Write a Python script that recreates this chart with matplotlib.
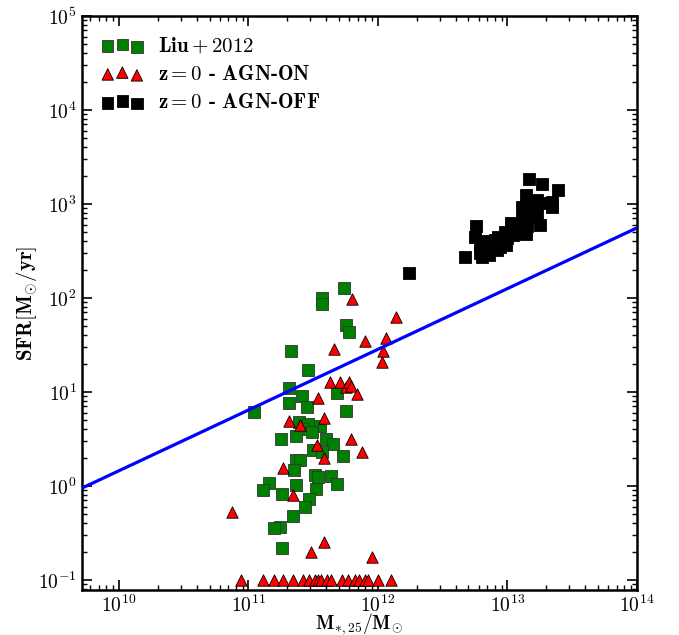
import numpy as np
import matplotlib
matplotlib.use("Agg")
import matplotlib.pyplot as plt

plt.rcParams['mathtext.fontset'] = 'cm'
plt.rcParams['font.family'] = ['cmr10', 'DejaVu Serif']
plt.rcParams['axes.formatter.use_mathtext'] = True

# log10 of stellar mass and SFR
liu_logm = [11.74, 11.57, 11.57, 11.75, 11.78, 11.33, 11.46, 11.31, 11.41, 11.31, 11.45,
            11.04, 11.68, 11.75, 11.39, 11.46, 11.55, 11.42, 11.49, 11.37, 11.25, 11.60,
            11.65, 11.50, 11.57, 11.73, 11.37, 11.40, 11.35, 11.51, 11.54, 11.64, 11.68,
            11.16, 11.11, 11.26, 11.37, 11.52, 11.47, 11.44, 11.34, 11.24, 11.20, 11.26]
liu_logsfr = [2.11, 2.00, 1.93, 1.71, 1.64, 1.44, 1.23, 1.04, 0.96, 0.88, 0.84,
              0.79, 0.99, 0.80, 0.68, 0.66, 0.64, 0.61, 0.57, 0.53, 0.50, 0.50,
              0.45, 0.38, 0.36, 0.32, 0.27, 0.28, 0.17, 0.12, 0.09, 0.10, 0.02,
              0.03, -0.04, -0.09, 0.01, -0.03, -0.14, -0.22, -0.32, -0.44, -0.45, -0.66]

on_logm = [11.80, 12.14, 11.90, 12.06, 11.66, 12.04, 12.03, 11.63, 11.71, 11.75, 11.78,
           11.79, 11.84, 11.54, 11.58, 11.40, 11.31, 11.79, 11.53, 11.88, 11.58, 11.27,
           11.34, 10.87, 11.58, 11.48, 11.95,
           10.94, 11.11, 11.20, 11.27, 11.34, 11.42, 11.47, 11.51, 11.54, 11.56, 11.61,
           11.64, 11.72, 11.77, 11.82, 11.85, 11.90, 11.92, 12.00, 12.10]
on_logsfr = [1.99, 1.80, 1.54, 1.57, 1.46, 1.43, 1.32, 1.11, 1.10, 1.05, 1.10,
             1.06, 0.98, 0.94, 0.72, 0.65, 0.69, 0.50, 0.44, 0.36, 0.30, 0.19,
             -0.10, -0.28, -0.60, -0.70, -0.76,
             -1, -1, -1, -1, -1, -1, -1, -1, -1, -1, -1,
             -1, -1, -1, -1, -1, -1, -1, -1, -1]

off_logm = [13.17, 13.27, 13.39, 13.14, 13.23, 13.34, 13.34, 13.11, 13.17, 13.21, 13.25,
            13.14, 12.67, 12.76, 12.75, 12.79, 12.79, 12.24, 12.84, 12.88, 12.92, 12.93,
            12.97, 12.98, 13.00, 13.03, 13.06, 13.07, 13.10, 13.11, 13.14, 13.16, 13.17,
            13.20, 13.21, 12.86, 12.94, 12.90, 12.99, 13.04, 13.08, 13.15, 13.23, 12.81,
            12.80, 13.25]
off_logsfr = [3.27, 3.21, 3.15, 3.10, 3.04, 3.02, 2.97, 2.97, 2.96, 2.97, 2.78,
              2.68, 2.43, 2.76, 2.65, 2.56, 2.48, 2.27, 2.53, 2.59, 2.51, 2.65,
              2.60, 2.70, 2.64, 2.80, 2.70, 2.78, 2.74, 2.85, 2.81, 2.88, 2.91,
              2.86, 2.94, 2.46, 2.54, 2.62, 2.56, 2.67, 2.69, 2.76, 2.88, 2.60,
              2.44, 3.01]

# main-sequence relation: log SFR = slope*(log M - 14) + norm
ms_slope = 0.646
ms_norm = 2.745

fig = plt.figure(figsize=(6.79, 6.35), dpi=100)
ax = fig.add_axes([0.1203, 0.0709, 0.8178, 0.904])

ms = 68
ax.scatter(10**np.array(liu_logm), 10**np.array(liu_logsfr), marker='s', s=ms,
           c='green', edgecolors='#333333', linewidths=0.6, label=r'$\mathbf{Liu + 2012}$', zorder=2)
ax.scatter(10**np.array(on_logm), 10**np.array(on_logsfr), marker='^', s=ms,
           c='red', edgecolors='black', linewidths=0.6, label=r'$\mathbf{z = 0}$ - AGN-ON', zorder=2)
ax.scatter(10**np.array(off_logm), 10**np.array(off_logsfr), marker='s', s=ms,
           c='black', edgecolors='black', linewidths=0.6, label=r'$\mathbf{z = 0}$ - AGN-OFF', zorder=2)

xl = np.array([9.7, 14.0])
ax.plot(10**xl, 10**(ms_slope * (xl - 14) + ms_norm), color='blue', lw=2.3, zorder=3)

ax.set_xscale('log')
ax.set_yscale('log')
ax.set_xlim(5.15e9, 1e14)
ax.set_ylim(0.078, 1e5)

ax.set_xlabel(r'$\mathbf{M_{*,25}/M_{\odot}}$', fontsize=14)
ax.set_ylabel(r'$\mathbf{SFR[M_{\odot}/yr]}$', fontsize=15)
ax.xaxis.set_label_coords(0.5, -0.037)
ax.yaxis.set_label_coords(-0.099, 0.5)
ax.xaxis.label.set_va('top')
ax.yaxis.label.set_va('center')

ax.tick_params(which='both', direction='in', top=True, right=True, labelsize=14)
ax.tick_params(which='major', length=7, width=1.2)
ax.tick_params(which='minor', length=3.5, width=1.0)
for sp in ax.spines.values():
    sp.set_linewidth(1.8)

leg = ax.legend(loc='upper left', frameon=False, scatterpoints=3,
                prop={'family': 'cmb10', 'size': 15}, handletextpad=0.7,
                labelspacing=0.45, borderaxespad=0.55)

fig.savefig('out.png', dpi=100)
